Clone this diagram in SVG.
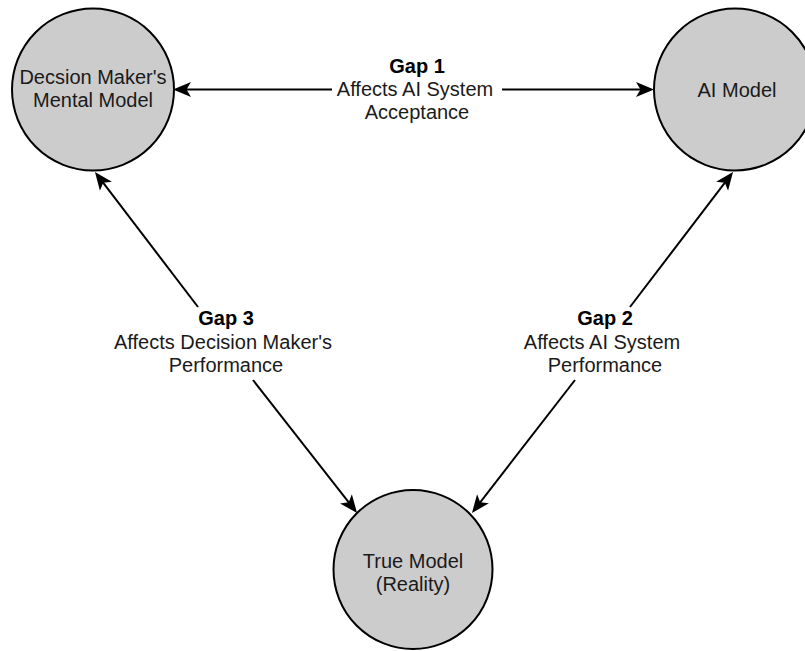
<svg xmlns="http://www.w3.org/2000/svg" width="805" height="651" viewBox="0 0 805 651">
  <style>
    .node circle { fill: #cccccc; stroke: #000000; stroke-width: 2; }
    text { font-family: "Liberation Sans", Arial, sans-serif; font-size: 20px; fill: #1a1a1a; text-anchor: middle; }
    .title { font-weight: bold; fill: #000000; }
    .edge { stroke: #000000; stroke-width: 2; fill: none; }
  </style>
  <defs>
    <marker id="arrow" viewBox="0 0 18 18" markerWidth="18" markerHeight="18" refX="15" refY="9" orient="auto-start-reverse" markerUnits="userSpaceOnUse">
      <path d="M18,9 L0,1.5 L4.5,9 L0,16.5 Z" fill="#000000"/>
    </marker>
  </defs>

  <rect width="805" height="651" fill="#ffffff"/>

  <!-- nodes -->
  <g id="mental-model" class="node">
    <circle cx="93" cy="89.5" r="81"/>
    <text x="93" y="84">Decsion Maker's</text>
    <text x="93" y="107">Mental Model</text>
  </g>
  <g id="ai-model" class="node">
    <circle cx="735" cy="89.5" r="81"/>
    <text x="737" y="96.5">AI Model</text>
  </g>
  <g id="true-model" class="node">
    <circle cx="413" cy="569.5" r="79.5"/>
    <text x="413" y="568">True Model</text>
    <text x="413" y="591">(Reality)</text>
  </g>

  <!-- connectors -->
  <g id="connectors">
    <!-- Gap 1: mental model <-> AI model -->
    <line class="edge" x1="176" y1="89.5" x2="332" y2="89.5" marker-start="url(#arrow)"/>
    <line class="edge" x1="502" y1="89.5" x2="651" y2="89.5" marker-end="url(#arrow)"/>
    <!-- Gap 3: mental model <-> reality -->
    <line class="edge" x1="198" y1="307" x2="96.8" y2="174.4" marker-end="url(#arrow)"/>
    <line class="edge" x1="253" y1="380" x2="355.2" y2="510.6" marker-end="url(#arrow)"/>
    <!-- Gap 2: AI model <-> reality -->
    <line class="edge" x1="630" y1="307" x2="731.2" y2="174.4" marker-end="url(#arrow)"/>
    <line class="edge" x1="575" y1="380" x2="473.8" y2="510.6" marker-end="url(#arrow)"/>

    <g id="gap1-label">
      <text class="title" x="417" y="73">Gap 1</text>
      <text x="415" y="96">Affects AI System</text>
      <text x="417" y="119">Acceptance</text>
    </g>
    <g id="gap3-label">
      <text class="title" x="226" y="325">Gap 3</text>
      <text x="223" y="349">Affects Decision Maker's</text>
      <text x="226" y="372">Performance</text>
    </g>
    <g id="gap2-label">
      <text class="title" x="605" y="325">Gap 2</text>
      <text x="602" y="349">Affects AI System</text>
      <text x="605" y="372">Performance</text>
    </g>
  </g>
</svg>
